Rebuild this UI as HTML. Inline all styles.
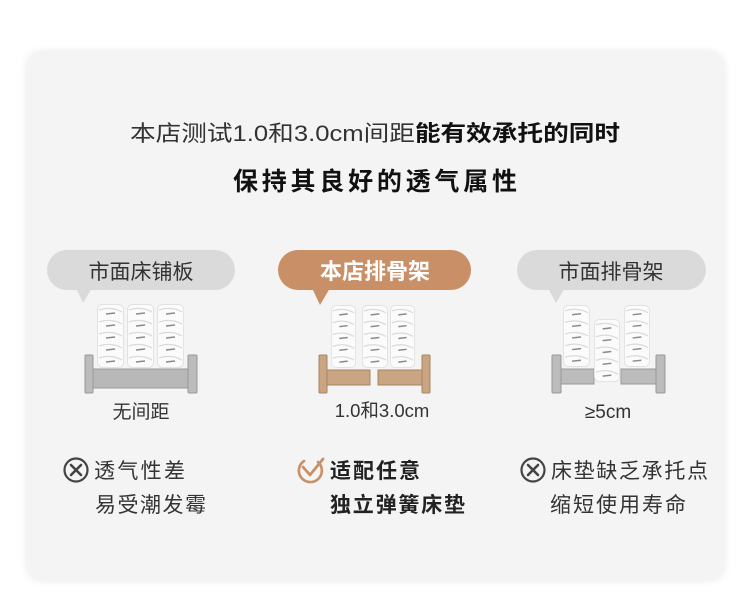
<!DOCTYPE html>
<html><head><meta charset="utf-8"><style>
html,body{margin:0;padding:0;background:#fff;}
svg{display:block;}
text{font-family:"Liberation Sans","Noto Sans CJK SC",sans-serif;}
</style></head><body>
<svg width="750" height="595" viewBox="0 0 750 595" xmlns="http://www.w3.org/2000/svg">
<defs>
<filter id="sh" x="-5%" y="-5%" width="110%" height="110%"><feGaussianBlur stdDeviation="4"/></filter>
<symbol id="spring" viewBox="0 0 27 64" preserveAspectRatio="none">
<rect x="0.5" y="0.5" width="26" height="63" rx="5" fill="#fbfbfb" stroke="#e2e2e2"/>
<g stroke="#dadada" stroke-width="1.3" fill="none">
<path d="M2 6 Q14 2 25 8"/><path d="M2 18 Q14 14 25 20"/><path d="M2 30 Q14 26 25 32"/><path d="M2 42 Q14 38 25 44"/><path d="M2 54 Q14 50 25 56"/>
</g>
<g stroke="#8a8a8a" stroke-width="1.5" fill="none">
<path d="M9 10 L18 9"/><path d="M9 22 L18 21"/><path d="M9 34 L18 33"/><path d="M9 46 L18 45"/><path d="M9 58 L18 57"/>
</g>
</symbol>
</defs>
<rect x="27" y="52" width="697" height="528" rx="14" fill="#e6e6e6" filter="url(#sh)"/>
<rect x="27" y="52" width="697" height="528" rx="14" fill="#f4f4f4"/>

<text x="375" y="141" font-size="22" fill="#333" text-anchor="middle" textLength="490" lengthAdjust="spacingAndGlyphs">本店测试1.0和3.0cm间距<tspan font-weight="bold" fill="#111">能有效承托的同时</tspan></text>
<text x="375" y="190" font-size="25" font-weight="bold" fill="#111" text-anchor="middle" textLength="284" lengthAdjust="spacing">保持其良好的透气属性</text>

<rect x="47" y="250" width="188" height="40" rx="20" fill="#dadada"/>
<path d="M76 288 L83 303 L92 288 Z" fill="#dadada"/>
<text x="141" y="279" font-size="21" fill="#333" text-anchor="middle">市面床铺板</text>

<rect x="278" y="250" width="193" height="40" rx="20" fill="#c98f67"/>
<path d="M312 288 L320 305 L330 288 Z" fill="#c98f67"/>
<text x="375" y="279" font-size="22" font-weight="bold" fill="#fff" text-anchor="middle">本店排骨架</text>

<rect x="517" y="250" width="189" height="40" rx="20" fill="#dadada"/>
<path d="M548 288 L556 303 L565 288 Z" fill="#dadada"/>
<text x="611" y="279" font-size="21" fill="#333" text-anchor="middle">市面排骨架</text>

<rect x="93" y="369" width="95" height="19" fill="#b8b8b8" stroke="#9a9a9a"/>
<rect x="85" y="355" width="8" height="38" rx="1" fill="#bcbcbc" stroke="#999"/>
<rect x="188" y="355" width="9" height="38" rx="1" fill="#bcbcbc" stroke="#999"/>
<use href="#spring" x="97" y="304" width="27" height="64"/>
<use href="#spring" x="127" y="304" width="27" height="64"/>
<use href="#spring" x="157" y="304" width="27" height="64"/>
<text x="141" y="418" font-size="19" fill="#333" text-anchor="middle">无间距</text>

<rect x="327" y="370" width="43" height="15" fill="#c9a583" stroke="#a8845f"/>
<rect x="378" y="370" width="44" height="15" fill="#c9a583" stroke="#a8845f"/>
<rect x="319" y="355" width="8" height="38" rx="1" fill="#c9a583" stroke="#a8845f"/>
<rect x="422" y="355" width="8" height="38" rx="1" fill="#c9a583" stroke="#a8845f"/>
<use href="#spring" x="331" y="305" width="25" height="63"/>
<use href="#spring" x="362" y="305" width="26" height="63"/>
<use href="#spring" x="390" y="305" width="25" height="63"/>
<text x="382" y="417" font-size="18.5" fill="#333" text-anchor="middle">1.0和3.0cm</text>

<rect x="561" y="369" width="33" height="15" fill="#bcbcbc" stroke="#9a9a9a"/>
<rect x="621" y="369" width="35" height="15" fill="#bcbcbc" stroke="#9a9a9a"/>
<rect x="552" y="355" width="9" height="38" rx="1" fill="#bcbcbc" stroke="#999"/>
<rect x="656" y="355" width="9" height="38" rx="1" fill="#bcbcbc" stroke="#999"/>
<use href="#spring" x="563" y="305" width="27" height="62"/>
<use href="#spring" x="594" y="319" width="26" height="63"/>
<use href="#spring" x="624" y="305" width="26" height="62"/>
<text x="608" y="418" font-size="19" fill="#333" text-anchor="middle">≥5cm</text>

<circle cx="76" cy="470" r="11.5" fill="none" stroke="#444" stroke-width="2.2"/>
<path d="M71 465 L81 475 M81 465 L71 475" stroke="#444" stroke-width="2.6" stroke-linecap="round"/>
<text x="94" y="478" font-size="21" fill="#333" textLength="91" lengthAdjust="spacing">透气性差</text>
<text x="95" y="512" font-size="21" fill="#333" textLength="111" lengthAdjust="spacing">易受潮发霉</text>

<path d="M318 462 A11.5 11.5 0 1 1 304 461" fill="none" stroke="#c98f67" stroke-width="2.6" stroke-linecap="round"/>
<path d="M303 467 L310 475 L323 459" fill="none" stroke="#c98f67" stroke-width="2.8" stroke-linecap="round" stroke-linejoin="round"/>
<text x="330" y="478" font-size="21" font-weight="bold" fill="#222" textLength="90" lengthAdjust="spacing">适配任意</text>
<text x="330" y="512" font-size="21" font-weight="bold" fill="#222" textLength="135" lengthAdjust="spacing">独立弹簧床垫</text>

<circle cx="533" cy="470" r="11.5" fill="none" stroke="#444" stroke-width="2.2"/>
<path d="M528 465 L538 475 M538 465 L528 475" stroke="#444" stroke-width="2.6" stroke-linecap="round"/>
<text x="551" y="478" font-size="21" fill="#333" textLength="157" lengthAdjust="spacing">床垫缺乏承托点</text>
<text x="550" y="512" font-size="21" fill="#333" textLength="136" lengthAdjust="spacing">缩短使用寿命</text>
</svg>
</body></html>
